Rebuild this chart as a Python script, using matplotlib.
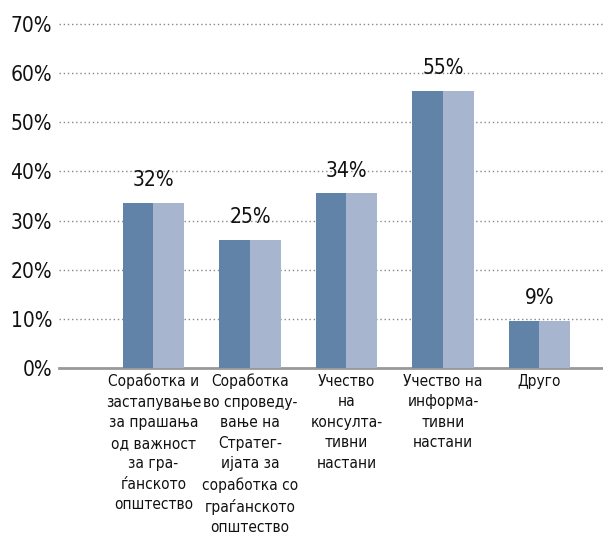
import matplotlib
matplotlib.use('Agg')
import matplotlib.pyplot as plt
import numpy as np

plt.rcParams['font.family'] = ['DejaVu Sans']
plt.rcParams['font.stretch'] = 'condensed'

# data
categories = ['Соработка и\nзастапување\nза прашања\nод важност\nза гра-\nѓанското\nопштество',
              'Соработка\nво спроведу-\nвање на\nСтратег-\nијата за\nсоработка со\nграѓанското\nопштество',
              'Учество\nна\nконсулта-\nтивни\nнастани',
              'Учество на\nинформа-\nтивни\nнастани',
              'Друго']
series_a = [33.6, 26.1, 35.6, 56.4, 9.6]
series_b = [33.6, 26.1, 35.6, 56.4, 9.6]
value_labels = ['32%', '25%', '34%', '55%', '9%']
yticks = [0, 10, 20, 30, 40, 50, 60, 70]
ytick_labels = ['0%', '10%', '20%', '30%', '40%', '50%', '60%', '70%']

dark = '#6283a8'
light = '#a7b5ce'

fig = plt.figure(figsize=(6.03, 5.38), dpi=100)
ax = fig.add_axes([59/603, 1-368/538, 1-59/603, (368-21.5)/538])

x = np.arange(len(categories))
w = 0.317
ax.bar(x - w/2, series_a, w, color=dark, zorder=3)
ax.bar(x + w/2, series_b, w, color=light, zorder=3)

for xi, h, lab in zip(x, series_a, value_labels):
    ax.annotate(lab, (xi, h), xytext=(0, 9), textcoords='offset points',
                ha='center', va='bottom', fontsize=15, color='#111111')

ax.set_xlim(-0.979, 4.658)
ax.set_ylim(0, 70.5)
ax.set_yticks(yticks)
ax.set_yticklabels(ytick_labels, fontsize=15, color='#111111')
ax.set_xticks(x)
ax.set_xticklabels(categories, fontsize=11.1, color='#111111', linespacing=1.46)
ax.tick_params(axis='both', length=0)
ax.tick_params(axis='x', pad=4)
ax.tick_params(axis='y', pad=5)

ax.yaxis.grid(True, linestyle=(0, (1, 2)), color='#888888', linewidth=1.0, zorder=0)
ax.set_axisbelow(True)
for s in ['top', 'right', 'left']:
    ax.spines[s].set_visible(False)
ax.spines['bottom'].set_color('#999999')
ax.spines['bottom'].set_linewidth(2)

plt.savefig('out.png', dpi=100)
